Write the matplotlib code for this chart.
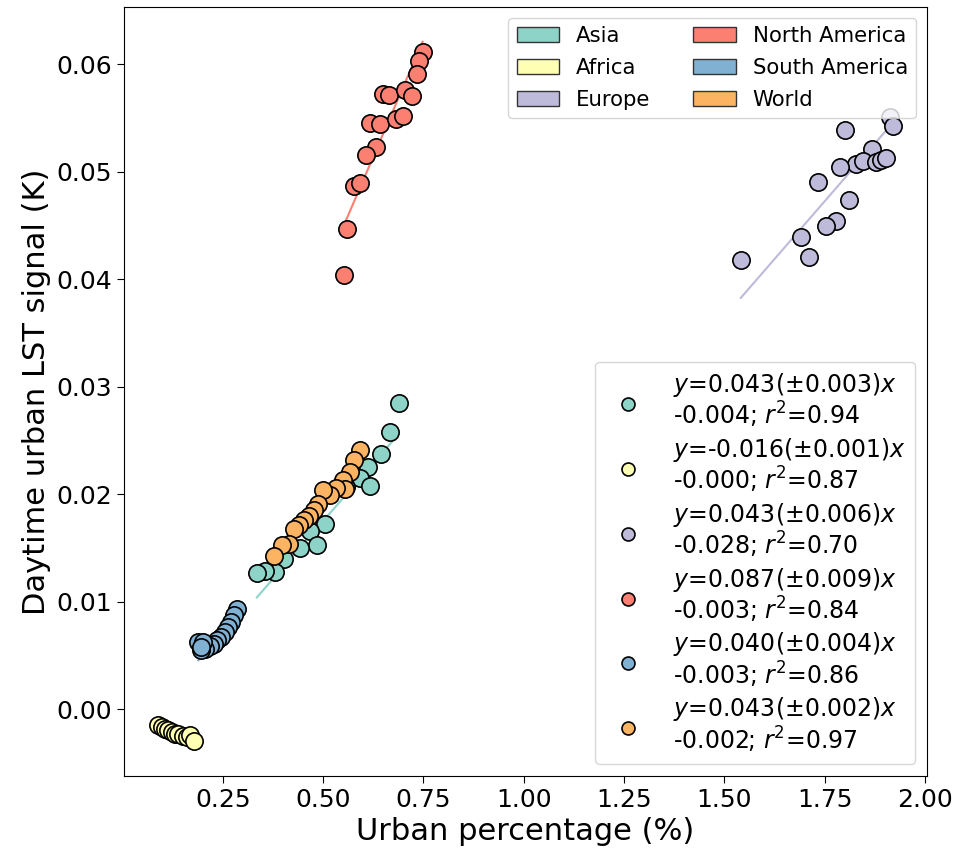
import matplotlib
matplotlib.use('Agg')
from matplotlib import pyplot as plt
from matplotlib.patches import Patch
import numpy as np

# region names and Set3 colours
regions = ['Asia', 'Africa', 'Europe', 'North America', 'South America', 'World']
colors = ['#8dd3c7', '#ffffb3', '#bebada', '#fb8072', '#80b1d3', '#fdb462']

# urban percentage (%) vs daytime urban LST signal (K)
asia_x = [0.688, 0.667, 0.645, 0.612, 0.592, 0.617, 0.556, 0.504, 0.467,
          0.485, 0.443, 0.403, 0.381, 0.356, 0.335]
asia_y = [0.0285, 0.0258, 0.0237, 0.0225, 0.0215, 0.0208, 0.0207, 0.0172,
          0.0166, 0.0153, 0.0150, 0.0140, 0.0128, 0.0129, 0.0127]

africa_x = [0.089, 0.098, 0.106, 0.114, 0.123, 0.131, 0.139, 0.150, 0.160,
            0.168, 0.179]
africa_y = [-0.00149, -0.00165, -0.00180, -0.00195, -0.00211, -0.00226,
            -0.00233, -0.00251, -0.00258, -0.00242, -0.00295]

europe_x = [1.912, 1.920, 1.800, 1.867, 1.827, 1.845, 1.878, 1.891, 1.903,
            1.788, 1.733, 1.810, 1.777, 1.753, 1.692, 1.712, 1.541]
europe_y = [0.0551, 0.0542, 0.0539, 0.0521, 0.0507, 0.0510, 0.0509, 0.0511,
            0.0513, 0.0504, 0.0490, 0.0474, 0.0454, 0.0449, 0.0439, 0.0421,
            0.0418]

namerica_x = [0.748, 0.739, 0.733, 0.650, 0.664, 0.704, 0.721, 0.618, 0.642,
              0.681, 0.698, 0.631, 0.608, 0.577, 0.593, 0.560, 0.552]
namerica_y = [0.0611, 0.0603, 0.0591, 0.0572, 0.0571, 0.0576, 0.0570, 0.0545,
              0.0544, 0.0549, 0.0552, 0.0523, 0.0515, 0.0487, 0.0489, 0.0447,
              0.0404]

samerica_x = [0.285, 0.277, 0.270, 0.264, 0.256, 0.245, 0.235, 0.227, 0.217,
              0.206, 0.195, 0.189, 0.202, 0.195]
samerica_y = [0.00937, 0.00874, 0.00812, 0.00766, 0.00719, 0.00673, 0.00642,
              0.00611, 0.00586, 0.00565, 0.00549, 0.00626, 0.00626, 0.00580]

world_x = [0.592, 0.578, 0.567, 0.549, 0.554, 0.533, 0.517, 0.500, 0.487,
           0.477, 0.464, 0.452, 0.439, 0.427, 0.414, 0.398, 0.378]
world_y = [0.0241, 0.0232, 0.0221, 0.0213, 0.0205, 0.0206, 0.0199, 0.0204,
           0.0191, 0.0185, 0.0180, 0.0176, 0.0171, 0.0168, 0.0154, 0.0153,
           0.0143]

# fitted slopes / intercepts and their texts
slopes = [0.043, -0.016, 0.043, 0.087, 0.040, 0.043]
slope_err = [0.003, 0.001, 0.006, 0.009, 0.004, 0.002]
intercepts = [-0.004, -0.000, -0.028, -0.003, -0.003, -0.002]
r2 = [0.94, 0.87, 0.70, 0.84, 0.86, 0.97]

xs = [asia_x, africa_x, europe_x, namerica_x, samerica_x, world_x]
ys = [asia_y, africa_y, europe_y, namerica_y, samerica_y, world_y]

fig = plt.figure(figsize=(9.6, 8.51), dpi=100)
ax = fig.add_axes([0.1292, 0.0881, 0.8365, 0.9036])

handles = []
labels = []
for i in range(len(regions)):
    sc = ax.scatter(xs[i], ys[i], s=155, color=colors[i], edgecolor='black',
                    linewidth=1.2, zorder=3)
    xx = np.array([min(xs[i]), max(xs[i])])
    ax.plot(xx, slopes[i] * xx + intercepts[i], color=colors[i], lw=1.5,
            zorder=2)
    handles.append(sc)
    labels.append('$y$=%.3f(±%.3f)$x$\n%s%.3f; $r^2$=%.2f'
                  % (slopes[i], slope_err[i], '-' if intercepts[i] <= 0 else '+',
                     abs(intercepts[i]), r2[i]))

ax.set_xlim(0.004, 2.005)
ax.set_ylim(-0.0062, 0.0653)
ax.set_xticks([0.25, 0.5, 0.75, 1.0, 1.25, 1.5, 1.75, 2.0])
ax.tick_params(labelsize=18, length=5)
ax.set_xlabel('Urban percentage (%)', fontsize=22)
ax.set_ylabel('Daytime urban LST signal (K)', fontsize=22)

leg2 = ax.legend(handles, labels, loc='lower right', fontsize=17,
                 markerscale=0.75, labelspacing=0.23, handletextpad=0.9)
for t in leg2.get_texts():
    t.set_linespacing(1.05)
ax.add_artist(leg2)

patches = [Patch(facecolor=colors[i], edgecolor='#333333', label=regions[i])
           for i in range(len(regions))]
ax.legend(handles=patches, loc='upper right', ncol=2, fontsize=15.3,
          labelspacing=0.55)

plt.savefig('out.png')
